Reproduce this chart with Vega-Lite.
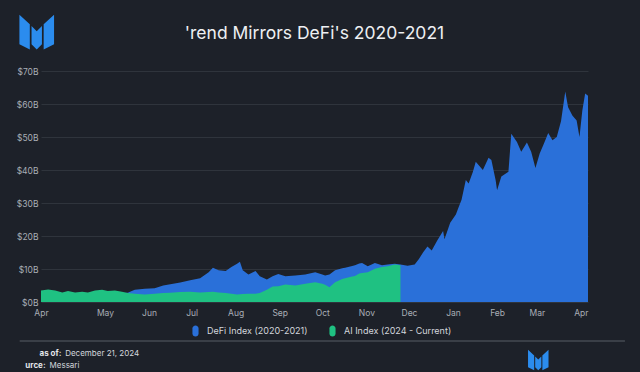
{
  "$schema": "https://vega.github.io/schema/vega-lite/v6.json",
  "width": 547,
  "height": 231,
  "autosize": {"type": "none"},
  "padding": {"left": 41, "top": 71, "right": 52, "bottom": 70},
  "background": "#1d2129",
  "config": {
    "view": {"stroke": null},
    "font": "Inter",
    "legend": {"padding": 0}
  },
  "title": {
    "text": "'rend Mirrors DeFi's 2020-2021",
    "fontSize": 17.5,
    "fontWeight": 400,
    "color": "#eef0f3",
    "anchor": "middle",
    "frame": "group",
    "baseline": "alphabetic",
    "offset": -42.2,
    "font": "Inter"
  },
  "datasets": {
    "defi": [
      {"date": "2020-03-17", "value": 2.6}, {"date": "2020-03-22", "value": 2.9}, {"date": "2020-03-27", "value": 2.8},
      {"date": "2020-04-01", "value": 2.4}, {"date": "2020-04-05", "value": 2.7}, {"date": "2020-04-10", "value": 2.4},
      {"date": "2020-04-15", "value": 2.6}, {"date": "2020-04-19", "value": 2.4}, {"date": "2020-04-24", "value": 2.9},
      {"date": "2020-04-29", "value": 3.1}, {"date": "2020-05-03", "value": 2.8}, {"date": "2020-05-08", "value": 2.9},
      {"date": "2020-05-13", "value": 2.7}, {"date": "2020-05-17", "value": 2.8}, {"date": "2020-05-22", "value": 3.7},
      {"date": "2020-05-29", "value": 4.0}, {"date": "2020-06-05", "value": 4.2}, {"date": "2020-06-11", "value": 5.0},
      {"date": "2020-06-16", "value": 5.4}, {"date": "2020-06-23", "value": 5.9}, {"date": "2020-06-30", "value": 6.6},
      {"date": "2020-07-07", "value": 7.2}, {"date": "2020-07-13", "value": 9.0}, {"date": "2020-07-16", "value": 10.4},
      {"date": "2020-07-20", "value": 9.6}, {"date": "2020-07-25", "value": 9.4}, {"date": "2020-07-29", "value": 10.6},
      {"date": "2020-08-02", "value": 11.6}, {"date": "2020-08-04", "value": 12.2}, {"date": "2020-08-06", "value": 9.6},
      {"date": "2020-08-10", "value": 8.3}, {"date": "2020-08-15", "value": 9.4}, {"date": "2020-08-18", "value": 7.8},
      {"date": "2020-08-23", "value": 6.8}, {"date": "2020-08-27", "value": 7.8}, {"date": "2020-08-31", "value": 8.5},
      {"date": "2020-09-05", "value": 7.8}, {"date": "2020-09-12", "value": 8.0}, {"date": "2020-09-19", "value": 8.3},
      {"date": "2020-09-26", "value": 9.0}, {"date": "2020-10-01", "value": 8.3}, {"date": "2020-10-03", "value": 8.0},
      {"date": "2020-10-06", "value": 8.3}, {"date": "2020-10-10", "value": 9.6}, {"date": "2020-10-15", "value": 10.2},
      {"date": "2020-10-17", "value": 10.4}, {"date": "2020-10-22", "value": 10.9}, {"date": "2020-10-24", "value": 11.1},
      {"date": "2020-10-27", "value": 11.7}, {"date": "2020-10-29", "value": 11.8}, {"date": "2020-11-02", "value": 10.8},
      {"date": "2020-11-07", "value": 11.8}, {"date": "2020-11-12", "value": 11.1}, {"date": "2020-11-16", "value": 11.4},
      {"date": "2020-11-21", "value": 11.6}, {"date": "2020-11-25", "value": 11.4}, {"date": "2020-11-30", "value": 11.0},
      {"date": "2020-12-05", "value": 11.4}, {"date": "2020-12-08", "value": 13.0}, {"date": "2020-12-11", "value": 15.1},
      {"date": "2020-12-14", "value": 16.8}, {"date": "2020-12-17", "value": 15.6}, {"date": "2020-12-21", "value": 18.7},
      {"date": "2020-12-25", "value": 21.5}, {"date": "2020-12-26", "value": 19.0}, {"date": "2020-12-30", "value": 24.0},
      {"date": "2021-01-03", "value": 26.5}, {"date": "2021-01-05", "value": 28.8}, {"date": "2021-01-07", "value": 31.0},
      {"date": "2021-01-10", "value": 37.0}, {"date": "2021-01-12", "value": 35.9}, {"date": "2021-01-15", "value": 39.5},
      {"date": "2021-01-17", "value": 42.5}, {"date": "2021-01-22", "value": 40.0}, {"date": "2021-01-26", "value": 43.7},
      {"date": "2021-01-28", "value": 43.0}, {"date": "2021-01-31", "value": 36.9}, {"date": "2021-02-01", "value": 33.9},
      {"date": "2021-02-04", "value": 38.0}, {"date": "2021-02-09", "value": 39.5}, {"date": "2021-02-11", "value": 51.0},
      {"date": "2021-02-15", "value": 48.5}, {"date": "2021-02-18", "value": 45.5}, {"date": "2021-02-22", "value": 48.3},
      {"date": "2021-02-25", "value": 45.5}, {"date": "2021-02-28", "value": 40.6}, {"date": "2021-03-03", "value": 45.0},
      {"date": "2021-03-06", "value": 48.0}, {"date": "2021-03-09", "value": 51.2}, {"date": "2021-03-12", "value": 49.0},
      {"date": "2021-03-15", "value": 50.0}, {"date": "2021-03-18", "value": 54.8}, {"date": "2021-03-21", "value": 63.8},
      {"date": "2021-03-23", "value": 59.0}, {"date": "2021-03-26", "value": 56.5}, {"date": "2021-03-29", "value": 55.0},
      {"date": "2021-03-31", "value": 50.0}, {"date": "2021-04-02", "value": 58.0}, {"date": "2021-04-04", "value": 63.2},
      {"date": "2021-04-06", "value": 62.5}
    ],
    "ai": [
      {"date": "2020-03-17", "value": 3.5}, {"date": "2020-03-22", "value": 3.8}, {"date": "2020-03-27", "value": 3.5},
      {"date": "2020-04-01", "value": 2.9}, {"date": "2020-04-05", "value": 3.3}, {"date": "2020-04-10", "value": 2.9},
      {"date": "2020-04-15", "value": 3.1}, {"date": "2020-04-19", "value": 2.9}, {"date": "2020-04-24", "value": 3.5},
      {"date": "2020-04-29", "value": 3.7}, {"date": "2020-05-03", "value": 3.3}, {"date": "2020-05-08", "value": 3.5},
      {"date": "2020-05-13", "value": 3.1}, {"date": "2020-05-17", "value": 2.7}, {"date": "2020-05-22", "value": 2.5},
      {"date": "2020-05-29", "value": 2.3}, {"date": "2020-06-05", "value": 2.5}, {"date": "2020-06-11", "value": 2.7},
      {"date": "2020-06-16", "value": 2.8}, {"date": "2020-06-23", "value": 3.0}, {"date": "2020-06-30", "value": 3.1},
      {"date": "2020-07-07", "value": 2.9}, {"date": "2020-07-13", "value": 3.0}, {"date": "2020-07-16", "value": 3.1},
      {"date": "2020-07-20", "value": 2.9}, {"date": "2020-07-25", "value": 2.7}, {"date": "2020-07-29", "value": 2.5},
      {"date": "2020-08-02", "value": 2.3}, {"date": "2020-08-06", "value": 2.4}, {"date": "2020-08-10", "value": 2.5},
      {"date": "2020-08-15", "value": 2.5}, {"date": "2020-08-18", "value": 2.7}, {"date": "2020-08-23", "value": 3.7},
      {"date": "2020-08-27", "value": 4.7}, {"date": "2020-08-31", "value": 4.8}, {"date": "2020-09-05", "value": 5.3},
      {"date": "2020-09-12", "value": 5.0}, {"date": "2020-09-19", "value": 5.5}, {"date": "2020-09-26", "value": 6.0},
      {"date": "2020-10-01", "value": 5.5}, {"date": "2020-10-03", "value": 5.2}, {"date": "2020-10-06", "value": 4.5},
      {"date": "2020-10-10", "value": 6.0}, {"date": "2020-10-15", "value": 7.0}, {"date": "2020-10-17", "value": 7.2},
      {"date": "2020-10-22", "value": 7.7}, {"date": "2020-10-24", "value": 7.9}, {"date": "2020-10-27", "value": 8.6},
      {"date": "2020-10-29", "value": 8.8}, {"date": "2020-11-02", "value": 9.0}, {"date": "2020-11-07", "value": 10.1},
      {"date": "2020-11-12", "value": 10.6}, {"date": "2020-11-16", "value": 10.8}, {"date": "2020-11-21", "value": 11.4},
      {"date": "2020-11-25", "value": 11.1}
    ]
  },
  "resolve": {"scale": {"x": "independent", "y": "independent"}},
  "layer": [
    {
      "layer": [
        {
          "data": {"name": "defi"},
          "mark": {"type": "area", "interpolate": "linear"},
          "encoding": {
            "x": {
              "field": "date",
              "type": "temporal",
              "scale": {
                "type": "utc",
                "domain": [
                  {"year": 2020, "month": 3, "date": 17, "utc": true},
                  {"year": 2021, "month": 4, "date": 6, "utc": true}
                ]
              },
              "axis": {
                "title": null,
                "grid": false,
                "domain": false,
                "ticks": false,
                "labelFlush": false,
                "labelOverlap": false,
                "tickCount": 20,
                "labelPadding": 6,
                "labelFontSize": 8.5,
                "labelColor": "#a9aeb6",
                "labelFont": "Inter",
                "values": [
                  {"year": 2020, "month": 3, "date": 17, "utc": true},
                  {"year": 2020, "month": 5, "date": 1, "utc": true},
                  {"year": 2020, "month": 6, "date": 1, "utc": true},
                  {"year": 2020, "month": 7, "date": 1, "utc": true},
                  {"year": 2020, "month": 8, "date": 1, "utc": true},
                  {"year": 2020, "month": 9, "date": 1, "utc": true},
                  {"year": 2020, "month": 10, "date": 1, "utc": true},
                  {"year": 2020, "month": 11, "date": 1, "utc": true},
                  {"year": 2020, "month": 12, "date": 1, "utc": true},
                  {"year": 2021, "month": 1, "date": 1, "utc": true},
                  {"year": 2021, "month": 2, "date": 1, "utc": true},
                  {"year": 2021, "month": 3, "date": 1, "utc": true},
                  {"year": 2021, "month": 4, "date": 1, "utc": true}
                ],
                "labelExpr": "utcFormat(datum.value, '%b %Y') == 'Mar 2020' ? 'Apr' : utcFormat(datum.value, '%b')"
              }
            },
            "y": {
              "field": "value",
              "type": "quantitative",
              "stack": null,
              "scale": {"domain": [0, 70], "nice": false, "zero": true},
              "axis": {
                "title": null,
                "values": [0, 10, 20, 30, 40, 50, 60, 70],
                "tickCount": 10,
                "labelOverlap": false,
                "labelExpr": "'$' + datum.value + 'B'",
                "grid": true,
                "gridColor": "#2f343c",
                "gridWidth": 1,
                "domain": false,
                "ticks": false,
                "labelPadding": 3,
                "labelFontSize": 8.5,
                "labelColor": "#a9aeb6",
                "labelFont": "Inter"
              }
            },
            "color": {
              "datum": "DeFi Index (2020-2021)",
              "type": "nominal",
              "scale": {
                "domain": ["DeFi Index (2020-2021)", "AI Index (2024 - Current)"],
                "range": ["#2a70d9", "#1fc182"]
              },
              "legend": {
                "title": null,
                "orient": "none",
                "legendX": 148,
                "legendY": 253,
                "direction": "horizontal",
                "symbolType": "M-0.5,-0.4 A0.5,0.5 0 0 1 0.5,-0.4 L0.5,0.4 A0.5,0.5 0 0 1 -0.5,0.4 Z",
                "symbolSize": 150,
                "symbolStrokeWidth": 0,
                "symbolOpacity": 1,
                "labelFontSize": 9,
                "labelColor": "#d3d6dc",
                "labelFont": "Inter",
                "labelOffset": 5,
                "columnPadding": 18
              }
            }
          }
        },
        {
          "data": {"name": "ai"},
          "mark": {"type": "area", "interpolate": "linear"},
          "encoding": {
            "x": {"field": "date", "type": "temporal"},
            "y": {"field": "value", "type": "quantitative", "stack": null},
            "color": {"datum": "AI Index (2024 - Current)", "type": "nominal"}
          }
        }
      ]
    },
    {
      "layer": [
        {
          "data": {"values": [{"label": "line"}]},
          "mark": {"type": "rule", "color": "#454a52", "strokeWidth": 1.5},
          "encoding": {
            "x": {
              "datum": {"year": 2020, "month": 3, "date": 2, "utc": true},
              "type": "temporal",
              "axis": null,
              "scale": {
                "type": "utc",
                "domain": [
                  {"year": 2020, "month": 3, "date": 17, "utc": true},
                  {"year": 2021, "month": 4, "date": 6, "utc": true}
                ]
              }
            },
            "x2": {"datum": {"year": 2021, "month": 5, "date": 2, "utc": true}},
            "y": {"datum": -11.8, "type": "quantitative", "axis": null, "scale": {"domain": [0, 70], "nice": false, "zero": true}}
          }
        },
        {
          "data": {"values": [{"label": "as of:"}]},
          "mark": {"type": "text", "align": "left", "baseline": "alphabetic", "fontSize": 8, "fontWeight": 700, "color": "#e4e6ea", "font": "Inter"},
          "encoding": {
            "x": {"datum": {"year": 2020, "month": 3, "date": 16, "utc": true}, "type": "temporal", "axis": null},
            "y": {"datum": -16.4, "type": "quantitative", "axis": null},
            "text": {"field": "label"}
          }
        },
        {
          "data": {"values": [{"label": "December 21, 2024"}]},
          "mark": {"type": "text", "align": "left", "baseline": "alphabetic", "fontSize": 8, "color": "#d3d6dc", "font": "Inter"},
          "encoding": {
            "x": {"datum": {"year": 2020, "month": 4, "date": 3, "utc": true}, "type": "temporal", "axis": null},
            "y": {"datum": -16.4, "type": "quantitative", "axis": null},
            "text": {"field": "label"}
          }
        },
        {
          "data": {"values": [{"label": "urce:"}]},
          "mark": {"type": "text", "align": "left", "baseline": "alphabetic", "fontSize": 8, "fontWeight": 700, "color": "#e4e6ea", "font": "Inter"},
          "encoding": {
            "x": {"datum": {"year": 2020, "month": 3, "date": 6, "utc": true}, "type": "temporal", "axis": null},
            "y": {"datum": -20.1, "type": "quantitative", "axis": null},
            "text": {"field": "label"}
          }
        },
        {
          "data": {"values": [{"label": "Messari"}]},
          "mark": {"type": "text", "align": "left", "baseline": "alphabetic", "fontSize": 8, "color": "#d3d6dc", "font": "Inter"},
          "encoding": {
            "x": {"datum": {"year": 2020, "month": 3, "date": 23, "utc": true}, "type": "temporal", "axis": null},
            "y": {"datum": -20.1, "type": "quantitative", "axis": null},
            "text": {"field": "label"}
          }
        },
        {
          "data": {"values": [{"logo": "top"}]},
          "mark": {
            "type": "point",
            "filled": true,
            "opacity": 1,
            "size": 1200,
            "color": "#2b8cee",
            "shape": "M-1,-1 L-0.4,-0.45 L-0.4,1 L-1,0.7 Z M-0.3,-0.35 L0,-0.05 L0.3,-0.35 L0.3,0.7 L0,1 L-0.3,0.7 Z M1,-1 L0.4,-0.45 L0.4,1 L1,0.7 Z"
          },
          "encoding": {
            "x": {"datum": {"year": 2020, "month": 3, "date": 14, "utc": true}, "type": "temporal", "axis": null},
            "y": {"datum": 81.8, "type": "quantitative", "axis": null}
          }
        },
        {
          "data": {"values": [{"logo": "bottom"}]},
          "mark": {
            "type": "point",
            "filled": true,
            "opacity": 1,
            "size": 420,
            "color": "#2b8cee",
            "shape": "M-1,-1 L-0.4,-0.45 L-0.4,1 L-1,0.7 Z M-0.3,-0.35 L0,-0.05 L0.3,-0.35 L0.3,0.7 L0,1 L-0.3,0.7 Z M1,-1 L0.4,-0.45 L0.4,1 L1,0.7 Z"
          },
          "encoding": {
            "x": {"datum": {"year": 2021, "month": 3, "date": 2, "utc": true}, "type": "temporal", "axis": null},
            "y": {"datum": -17.6, "type": "quantitative", "axis": null}
          }
        }
      ]
    }
  ]
}
